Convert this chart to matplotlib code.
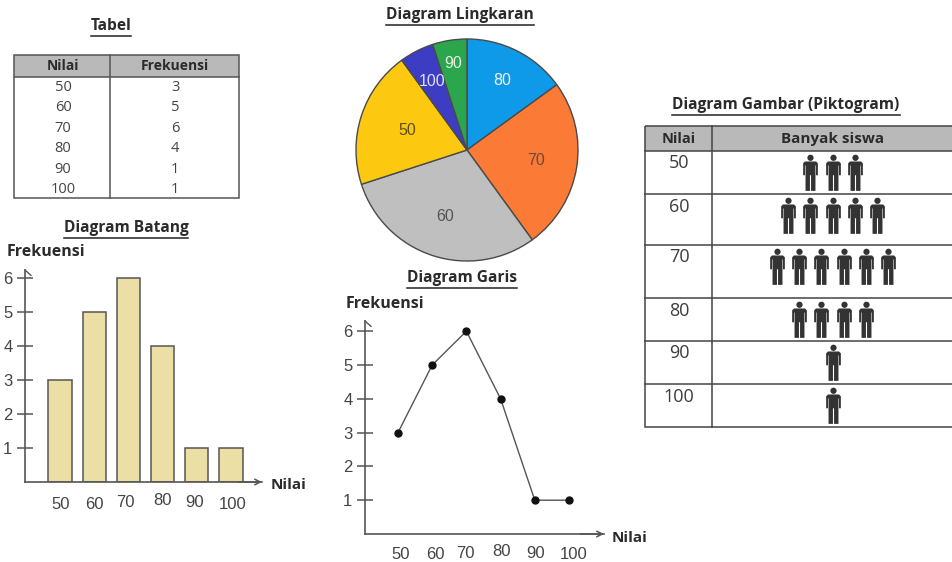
import matplotlib
matplotlib.use("Agg")
import matplotlib.pyplot as plt
from matplotlib.path import Path
from matplotlib.patches import Rectangle
from matplotlib.transforms import ScaledTranslation
import numpy as np

plt.rcParams['font.family'] = ['Liberation Sans', 'DejaVu Sans']

nilai = ['50', '60', '70', '80', '90', '100']
frekuensi = [3, 5, 6, 4, 1, 1]

# the pie in the picture is not in the table's order
pie_labels = ['80', '70', '60', '50', '100', '90']
pie_values = [3, 5, 6, 4, 1, 1]
pie_colors = ['#0e9ae8', '#fb7a36', '#bfbfbf', '#fdc810', '#3c3cc4', '#2ca64c']
pie_text_colors = ['#f4f4f4', '#6b4a3a', '#555555', '#5a5020', '#e0e0f4', '#e4f0e4']
pie_text_radius = [0.70, 0.63, 0.63, 0.57, 0.69, 0.79]

W, H = 952, 562
DARK = '#2b2b2b'
GREY = '#555555'
HEAD = 'Open Sans'

fig = plt.figure(figsize=(W / 100, H / 100), dpi=100)


def px_axes(left, top, right, bottom):
    return fig.add_axes([left / W, 1 - bottom / H, (right - left) / W, (bottom - top) / H])


# page axes, in pixels, for titles and the two tables
page = px_axes(0, 0, W, H)
page.set_xlim(0, W)
page.set_ylim(H, 0)
page.axis('off')


def title(x, y, s):
    t = page.text(x, y, s, family=HEAD, weight='bold', fontsize=11.2, color=DARK, ha='center', va='center')
    bb = t.get_window_extent(fig.canvas.get_renderer())
    page.plot([bb.x0, bb.x1], [y + 9.5, y + 9.5], color='#222222', lw=1.1)


title(111, 26, 'Tabel')
title(126, 228, 'Diagram Batang')
title(460, 15, 'Diagram Lingkaran')
title(462, 278, 'Diagram Garis')
title(786, 105, 'Diagram Gambar (Piktogram)')


def table_frame(left, mid, right, top, head_bottom, bottom, color):
    page.add_patch(Rectangle((left, top), right - left, head_bottom - top, fc='#b9b9b9', ec='none'))
    page.add_patch(Rectangle((left, top), right - left, bottom - top, fc='none', ec=color, lw=1.1))
    page.plot([left, right], [head_bottom, head_bottom], color=color, lw=1.1)
    page.plot([mid, mid], [top, bottom], color=color, lw=1.1)


# Tabel
table_frame(14, 110, 239, 55, 77, 198, '#555555')
page.text(63, 65.5, 'Nilai', family=HEAD, weight='bold', fontsize=10, color=DARK, ha='center', va='center')
page.text(175, 65.5, 'Frekuensi', family=HEAD, weight='bold', fontsize=10, color=DARK, ha='center', va='center')
for i, (n, f) in enumerate(zip(nilai, frekuensi)):
    page.text(63, 87.5 + 20.4 * i, n, family=HEAD, fontsize=10.5, color='#444444', ha='center', va='center')
    page.text(175, 87.5 + 20.4 * i, f, family=HEAD, fontsize=10.5, color='#444444', ha='center', va='center')

# Piktogram
row_lines = [151, 194, 245, 298, 341, 384, 427]
table_frame(645, 712, 960, 126, 151, 427, '#444444')
page.text(679, 139, 'Nilai', family=HEAD, weight='bold', fontsize=10.5, color=DARK, ha='center', va='center')
page.text(833, 139, 'Banyak siswa', family=HEAD, weight='bold', fontsize=11, color=DARK, ha='center', va='center')
for y in row_lines[1:-1]:
    page.plot([645, W], [y, y], color='#444444', lw=1.1)

body = [(-.30, .60), (.30, .60), (.40, .50), (.40, -.15), (.30, -.15), (.30, .38), (.27, .38), (.27, -1),
        (.03, -1), (.03, -.15), (-.03, -.15), (-.03, -1), (-.27, -1), (-.27, .38), (-.30, .38),
        (-.30, -.15), (-.40, -.15), (-.40, .50), (-.30, .60)]
person = Path.make_compound_path(Path.circle((0, .80), .17), Path(body, closed=True))
for y, n, f in zip(row_lines, nilai, frekuensi):
    page.text(679, y + 12.5, n, family=HEAD, fontsize=13, color='#3c3c3c', ha='center', va='center')
    xs = 832.5 + 22.2 * (np.arange(f) - (f - 1) / 2)
    page.scatter(xs, np.full(f, y + 21), marker=person, s=700, color='#333333', linewidths=0)


def chart_axes(left, right, baseline, unit, first_x, top):
    ax = px_axes(left, top, right, baseline)
    ax.set_xlim((left - first_x) / 34.2, (right - first_x) / 34.2)
    ax.set_ylim(0, (baseline - top) / unit)
    ax.patch.set_alpha(0)
    for s in ['top', 'right']:
        ax.spines[s].set_visible(False)
    for s in ['left', 'bottom']:
        ax.spines[s].set_color(GREY)
        ax.spines[s].set_linewidth(1.2)
    ax.set_yticks(range(1, 7))
    ax.tick_params(axis='y', direction='inout', length=12, width=1.1, color=GREY, pad=3,
                   labelsize=12, labelcolor='#444444')
    ax.tick_params(axis='x', length=0, pad=11, labelsize=12, labelcolor='#444444')
    ax.set_xticks(range(len(nilai)), nilai)
    # the arrow heads on both axes
    ax.annotate('', xy=(1.0, 0), xytext=(0.9, 0), xycoords='axes fraction',
                arrowprops=dict(arrowstyle='->', color=GREY, lw=1.1, shrinkA=0, shrinkB=0))
    ax.plot([0, 0.025], [1, 0.975], transform=ax.transAxes, color=GREY, lw=1, clip_on=False)
    return ax


def shift_labels(ax, dx, dy):
    for t, a, b in zip(ax.get_xticklabels(), dx, dy):
        t.set_transform(t.get_transform() + ScaledTranslation(a / 100, -b / 100, fig.dpi_scale_trans))


# Diagram Batang
ax1 = chart_axes(25, 262, 482, 34, 60, 270)
ax1.bar(range(len(nilai)), frekuensi, width=0.68, color='#ecdfa6', edgecolor=GREY, linewidth=1.1)
shift_labels(ax1, [1, 0, -3, 0, -2, 2], [0, 0, -2, -4, -2, 0])
page.text(7, 252, 'Frekuensi', family=HEAD, weight='bold', fontsize=11.5, color=DARK, va='center')
page.text(271, 485, 'Nilai', family=HEAD, weight='bold', fontsize=11, color=DARK, va='center')

# Diagram Garis
ax2 = chart_axes(365, 604, 534, 33.8, 398, 321)
ax2.plot(range(len(nilai)), frekuensi, color='#555555', lw=1, marker='o', ms=5,
         mfc='#111111', mec='#111111')
shift_labels(ax2, [3, 3, -1, 1, 1, 5], [-2, -2, -3, -5, -3, -2])
page.text(346, 304, 'Frekuensi', family=HEAD, weight='bold', fontsize=11.5, color=DARK, va='center')
page.text(612, 538, 'Nilai', family=HEAD, weight='bold', fontsize=11, color=DARK, va='center')

# Diagram Lingkaran
ax3 = px_axes(467 - 113, 150 - 113, 467 + 113, 150 + 113)
wedges, _ = ax3.pie(pie_values, colors=pie_colors, startangle=90, counterclock=False, radius=1,
                    wedgeprops=dict(edgecolor='#4a4a4a', linewidth=1))
ax3.set_xlim(-113 / 111, 113 / 111)
ax3.set_ylim(-113 / 111, 113 / 111)
for w, s, c, r in zip(wedges, pie_labels, pie_text_colors, pie_text_radius):
    a = np.radians((w.theta1 + w.theta2) / 2)
    ax3.text(r * np.cos(a), r * np.sin(a), s, color=c, fontsize=11.5, ha='center', va='center')

fig.savefig('out.png', dpi=100)
